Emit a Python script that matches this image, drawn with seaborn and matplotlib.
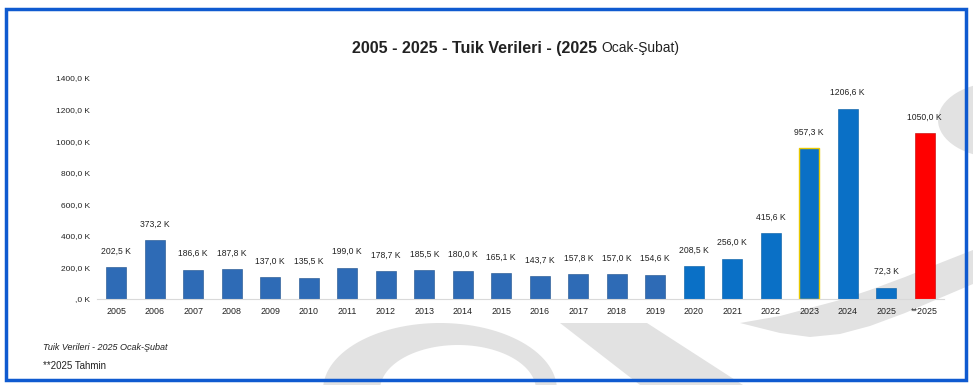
import numpy as np
import pandas as pd
import matplotlib
matplotlib.use("Agg")
import matplotlib.pyplot as plt
import matplotlib.patches as mpatches
import seaborn as sns

years = ["2005", "2006", "2007", "2008", "2009", "2010", "2011", "2012", "2013", "2014", "2015",
         "2016", "2017", "2018", "2019", "2020", "2021", "2022", "2023", "2024", "2025", "**2025"]
values = [202.5, 373.2, 186.6, 187.8, 137.0, 135.5, 199.0, 178.7, 185.5, 180.0, 165.1,
          143.7, 157.8, 157.0, 154.6, 208.5, 256.0, 415.6, 957.3, 1206.6, 72.3, 1050.0]
labels = ["202,5 K", "373,2 K", "186,6 K", "187,8 K", "137,0 K", "135,5 K", "199,0 K", "178,7 K",
          "185,5 K", "180,0 K", "165,1 K", "143,7 K", "157,8 K", "157,0 K", "154,6 K", "208,5 K",
          "256,0 K", "415,6 K", "957,3 K", "1206,6 K", "72,3 K", "1050,0 K"]
y_ticks = [0, 200, 400, 600, 800, 1000, 1200, 1400]
y_tick_labels = [",0 K", "200,0 K", "400,0 K", "600,0 K", "800,0 K", "1000,0 K", "1200,0 K", "1400,0 K"]

colors = ["#2E6BB6"] * 15 + ["#0A70C6"] * 6 + ["#FF0000"]

df = pd.DataFrame({"year": years, "value": values})

sns.set_style("white")
plt.rcParams["font.family"] = ["Liberation Sans", "DejaVu Sans"]

fig = plt.figure(figsize=(9.73, 3.85), dpi=100)
W, H = 973, 385

# light gray watermark (logo in the background), in pixel coords
wm = fig.add_axes([0, 0, 1, 1], zorder=0)
wm.set_xlim(0, W)
wm.set_ylim(H, 0)
wm.axis("off")
gray = "#E2E2E2"
t = np.linspace(np.pi, 0, 60)
outer = np.column_stack([440 + 117 * np.cos(t), 390 - 67 * np.sin(t)])
inner = np.column_stack([458 + 78 * np.cos(t[::-1]), 390 - 45 * np.sin(t[::-1])])
wm.add_patch(mpatches.Polygon(np.vstack([outer, inner]), closed=True, color=gray, lw=0))
wm.add_patch(mpatches.Polygon([(560, 323), (647, 323), (743, 385), (640, 385)],
                              closed=True, color=gray, lw=0))
crescent = [(740, 323), (780, 333), (810, 337), (840, 334), (870, 326), (905, 313), (940, 298),
            (973, 284), (973, 250), (940, 263), (905, 277), (870, 290), (840, 300), (810, 308),
            (780, 316)]
wm.add_patch(mpatches.Polygon(crescent, closed=True, color=gray, lw=0))
wm.add_patch(mpatches.Ellipse((1000, 120), 124, 76, color=gray, lw=0))

ax = fig.add_axes([97 / W, 1 - 299 / H, (944 - 97) / W, (299 - 78) / H], zorder=1)
ax.patch.set_alpha(0)
sns.barplot(data=df, x="year", y="value", hue="year", palette=colors, legend=False,
            width=0.52, ax=ax, saturation=1)

for i, p in enumerate(ax.patches):
    if years[i] == "2023":
        p.set_edgecolor("#E8C800")
        p.set_linewidth(1.0)
    else:
        p.set_edgecolor("#1B4F8A" if i < 15 else ("#0058A0" if i < 21 else "#C00000"))
        p.set_linewidth(0.4)

for i, (v, lab) in enumerate(zip(values, labels)):
    ax.text(i, v + 72, lab, ha="center", va="bottom", fontsize=6.2, color="#222222")

ax.set_xlim(-0.5, 21.5)
ax.set_ylim(0, 1400)
ax.set_yticks(y_ticks)
ax.set_yticklabels(y_tick_labels, fontsize=6.0, color="#222222")
ax.tick_params(axis="x", labelsize=6.4, colors="#222222", length=0, pad=6)
ax.tick_params(axis="y", length=0, pad=5)
ax.set_xlabel("")
ax.set_ylabel("")
for sp in ["top", "right", "left"]:
    ax.spines[sp].set_visible(False)
ax.spines["bottom"].set_color("#D9D9D9")
ax.spines["bottom"].set_linewidth(0.8)

fig.text(597 / W, 1 - 48 / H, "2005 - 2025 - Tuik Verileri - (2025", ha="right", va="center",
         fontsize=11.5, fontweight="bold", color="#222222")
fig.text(601 / W, 1 - 48 / H, "Ocak-Şubat)", ha="left", va="center",
         fontsize=10, color="#222222")

fig.text(43 / W, 1 - 348 / H, "Tuik Verileri - 2025 Ocak-Şubat", ha="left", va="center",
         fontsize=6.5, style="italic", color="#222222")
fig.text(43 / W, 1 - 366 / H, "**2025 Tahmin", ha="left", va="center",
         fontsize=7.0, color="#222222")

# blue frame
fig.add_artist(mpatches.Rectangle((6 / W, 1 - 380 / H), (966 - 6) / W, (380 - 9) / H,
                                  transform=fig.transFigure, fill=False,
                                  edgecolor="#0F5AD0", linewidth=2.5, zorder=5))

fig.savefig("out.png", dpi=100)
